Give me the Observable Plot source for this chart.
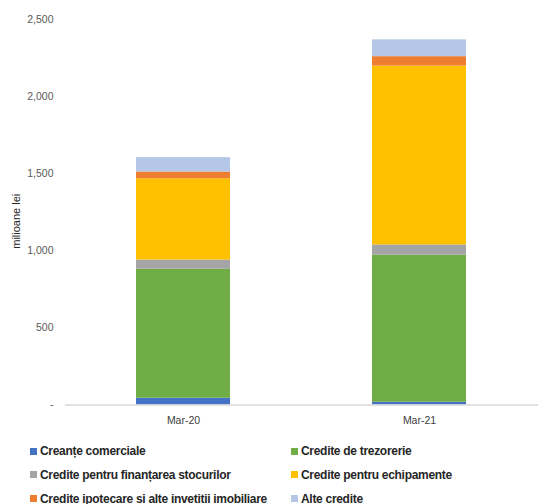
<!DOCTYPE html>
<html>
<head>
<meta charset="utf-8">
<script src="https://cdn.jsdelivr.net/npm/d3@7"></script>
<script src="https://cdn.jsdelivr.net/npm/@observablehq/plot@0.6"></script>
<style>
  html, body { margin: 0; padding: 0; background: #fff; }
  #wrap { width: 538px; height: 504px; overflow: hidden; position: relative; }
  #legend { position: relative; height: 69px; font-family: "Liberation Sans", Arial, sans-serif; font-size: 12px; letter-spacing: -0.3px; font-weight: bold; color: #262626; }
  .item { position: absolute; display: flex; align-items: center; white-space: nowrap; height: 20px; }
  .sw { width: 7px; height: 7px; margin-right: 3px; }
</style>
</head>
<body>
<div id="wrap">
  <div id="chart"></div>
  <div id="legend"></div>
</div>
<script>
const categories = ["Mar-20", "Mar-21"];
const seriesNames = [
  "Creanțe comerciale",
  "Credite de trezorerie",
  "Credite pentru finanțarea stocurilor",
  "Credite pentru echipamente",
  "Credite ipotecare și alte invetiții imobiliare",
  "Alte credite"
];
const creanteComerciale = [44, 18];
const crediteTrezorerie = [836, 953];
const crediteStocuri = [60, 67];
const crediteEchipamente = [527, 1160];
const crediteIpotecare = [44, 61];
const alteCredite = [93, 109];
const seriesColors = ["#4472C4", "#70AD47", "#A5A5A5", "#FFC000", "#ED7D31", "#B4C7E7"];
const yTicks = [0, 500, 1000, 1500, 2000, 2500];

const seriesValues = [creanteComerciale, crediteTrezorerie, crediteStocuri, crediteEchipamente, crediteIpotecare, alteCredite];
const data = [];
seriesNames.forEach((s, i) => {
  categories.forEach((c, j) => data.push({ cat: c, series: s, value: seriesValues[i][j] }));
});

const fmt = d3.format(",");
const chart = Plot.plot({
  width: 538,
  height: 435,
  marginLeft: 65,
  marginRight: 0,
  marginTop: 19,
  marginBottom: 30.5,
  style: { fontFamily: "'Liberation Sans', Arial, sans-serif", fontSize: "10.5px", color: "#595959" },
  x: { domain: categories, paddingInner: 0.6, paddingOuter: 0.3, label: null },
  y: { domain: [0, 2500], label: null },
  color: { domain: seriesNames, range: seriesColors },
  marks: [
    Plot.barY(data, { x: "cat", y: "value", fill: "series" }),
    Plot.ruleY([0], { stroke: "#d9d9d9", strokeWidth: 1.5 }),
    Plot.axisY({ ticks: yTicks, tickSize: 0, tickPadding: 12, label: null,
      tickFormat: d => d === 0 ? "-" : fmt(d), fill: "#595959" }),
    Plot.axisX({ tickSize: 0, tickPadding: 12, label: null, fill: "#404040" }),
    Plot.text(["milioane lei"], { frameAnchor: "left", textAnchor: "middle", dx: -49, dy: 9, rotate: -90,
      fill: "#262626", fontSize: 11 })
  ]
});
document.getElementById("chart").appendChild(chart);

const legend = document.getElementById("legend");
const cols = [30, 291];
const rowsY = [6, 29.5, 53.5];
seriesNames.forEach((s, i) => {
  const item = document.createElement("div");
  item.className = "item";
  item.style.left = cols[i % 2] + "px";
  item.style.top = rowsY[Math.floor(i / 2)] + "px";
  const sw = document.createElement("span");
  sw.className = "sw";
  sw.style.background = seriesColors[i];
  const t = document.createElement("span");
  t.textContent = s;
  item.appendChild(sw);
  item.appendChild(t);
  legend.appendChild(item);
});
</script>
</body>
</html>
